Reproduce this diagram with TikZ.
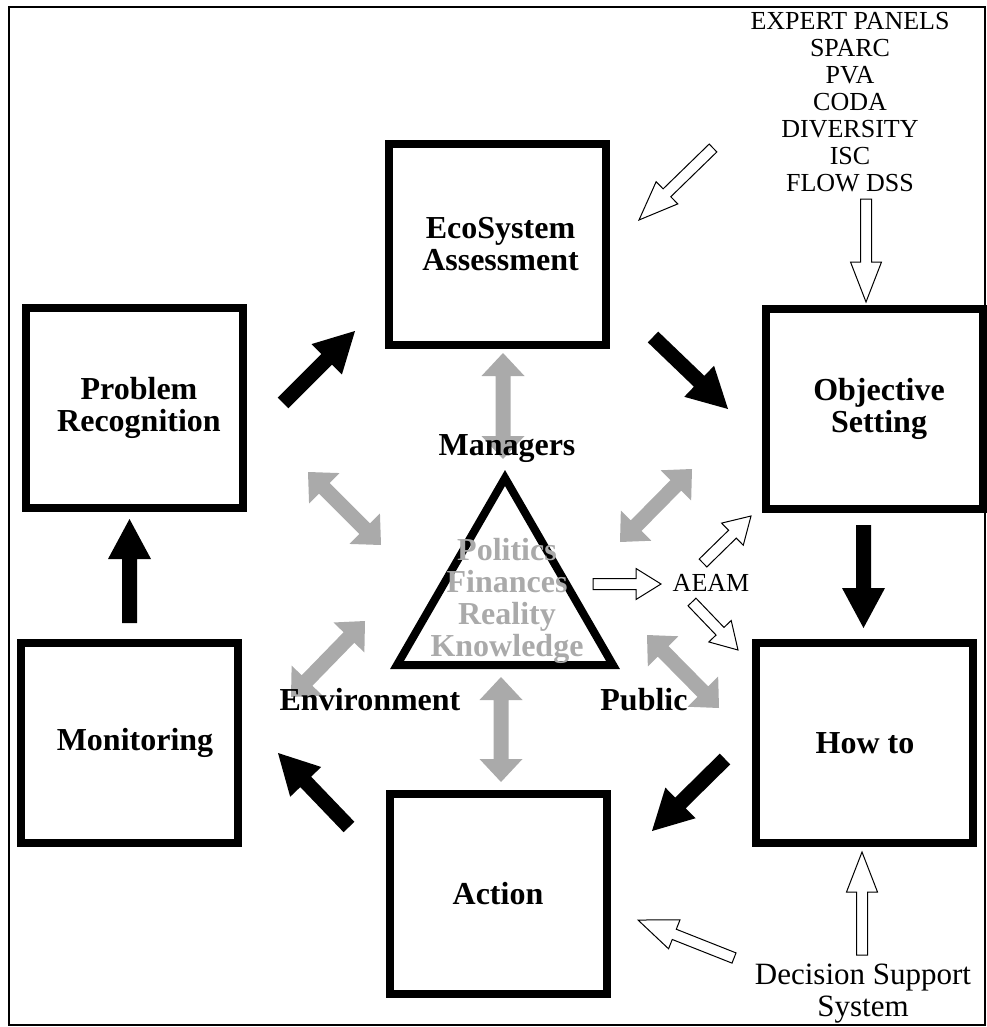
\documentclass[tikz,border=0pt]{standalone}
\usepackage{fontspec}
\setmainfont{Liberation Serif}
\usetikzlibrary{calc}
\definecolor{lg}{RGB}{170,170,170}
% single block arrow: style, tail, tip, shaft half width, head half width, head length
\newcommand{\sarrow}[6]{%
  \coordinate (hA) at ($(#3)!#6!(#2)$);
  \path[#1] ($(#2)!#4!90:(#3)$) -- ($(hA)!#4!90:(#3)$) -- ($(hA)!#5!90:(#3)$) -- (#3)
     -- ($(hA)!#5!-90:(#3)$) -- ($(hA)!#4!-90:(#3)$) -- ($(#2)!#4!-90:(#3)$) -- cycle;}
% double block arrow: style, end1, end2, shaft half width, head half width, head length
\newcommand{\darrow}[6]{%
  \coordinate (hA) at ($(#2)!#6!(#3)$);
  \coordinate (hB) at ($(#3)!#6!(#2)$);
  \path[#1] (#2) -- ($(hA)!#5!90:(#3)$) -- ($(hA)!#4!90:(#3)$) -- ($(hB)!#4!90:(#3)$)
     -- ($(hB)!#5!90:(#3)$) -- (#3) -- ($(hB)!#5!-90:(#3)$) -- ($(hB)!#4!-90:(#3)$)
     -- ($(hA)!#4!-90:(#3)$) -- ($(hA)!#5!-90:(#3)$) -- cycle;}
\newcommand{\ind}[1]{\hspace*{#1pt}}
\tikzset{
  box/.style={draw, line width=8pt, minimum width=217pt, minimum height=200pt,
    inner sep=0pt, align=center, font=\fontsize{32}{32}\selectfont\bfseries},
  blackarrow/.style={fill=black},
  greyarrow/.style={fill=lg},
  openarrow/.style={draw=black, fill=white, line width=1pt, line join=miter},
  boldlabel/.style={anchor=base, inner sep=0pt, font=\fontsize{32}{32}\selectfont\bfseries},
  plainlabel/.style={inner sep=0pt, align=center, font=\fontsize{26}{27}\selectfont},
}
\begin{document}
\begin{tikzpicture}[x=1pt,y=-1pt]
\useasboundingbox (0,0) rectangle (986,1027);
\draw[line width=2pt] (9,7) rectangle (985,1024.5);

% boxes
\node[box] (eco) at (497,244.5) {\ind{7}EcoSystem\\\ind{7}Assessment};
\node[box] (prob) at (134.5,407.5) {\ind{9}Problem\\\ind{9}Recognition};
\node[box] (obj) at (874,408.5) {\ind{10}Objective\\\ind{10}Setting};
\node[box] (how) at (864,743) {\ind{2}How to};
\node[box] (mon) at (129.5,742.5) {\ind{11}Monitoring};
\node[box] (act) at (498,894) {Action};

% triangle
\draw[line width=8pt, line join=miter] (505,478) -- (613,665) -- (397,665) -- cycle;

% black cycle arrows
\coordinate (a1t) at (283,403);   \coordinate (a1h) at (355,331);
\coordinate (a2t) at (653,337);   \coordinate (a2h) at (728,409);
\coordinate (a3t) at (863.5,525); \coordinate (a3h) at (863.5,628);
\coordinate (a4t) at (725,759);   \coordinate (a4h) at (652,831);
\coordinate (a5t) at (349,827);   \coordinate (a5h) at (278,753);
\coordinate (a6t) at (129.5,623); \coordinate (a6h) at (129.5,519);
\sarrow{blackarrow}{a1t}{a1h}{7.5pt}{21.5pt}{40pt}
\sarrow{blackarrow}{a2t}{a2h}{7.5pt}{21.5pt}{40pt}
\sarrow{blackarrow}{a3t}{a3h}{7.5pt}{21.5pt}{40pt}
\sarrow{blackarrow}{a4t}{a4h}{7.5pt}{21.5pt}{40pt}
\sarrow{blackarrow}{a5t}{a5h}{7.5pt}{21.5pt}{40pt}
\sarrow{blackarrow}{a6t}{a6h}{7.5pt}{21.5pt}{40pt}

% grey double arrows
\coordinate (g1a) at (503,353); \coordinate (g1b) at (503,459);
\coordinate (g2a) at (308,472); \coordinate (g2b) at (381,545);
\coordinate (g3a) at (620,542); \coordinate (g3b) at (692,469);
\coordinate (g4a) at (291,697); \coordinate (g4b) at (365,621);
\coordinate (g5a) at (647,635); \coordinate (g5b) at (719,708);
\coordinate (g6a) at (501,677); \coordinate (g6b) at (501,782);
\darrow{greyarrow}{g1a}{g1b}{7.5pt}{21.5pt}{23pt}
\darrow{greyarrow}{g2a}{g2b}{7.5pt}{21.5pt}{23pt}
\darrow{greyarrow}{g3a}{g3b}{7.5pt}{21.5pt}{23pt}
\darrow{greyarrow}{g4a}{g4b}{7.5pt}{21.5pt}{23pt}
\darrow{greyarrow}{g5a}{g5b}{7.5pt}{21.5pt}{23pt}
\darrow{greyarrow}{g6a}{g6b}{7.5pt}{21.5pt}{23pt}

% open arrows
\coordinate (o1t) at (713,148); \coordinate (o1h) at (639,220);
\coordinate (o2t) at (866,199); \coordinate (o2h) at (866,302);
\coordinate (o3t) at (593,584); \coordinate (o3h) at (661,584);
\coordinate (o4t) at (703,563); \coordinate (o4h) at (751,516);
\coordinate (o5t) at (692,602); \coordinate (o5h) at (738,650);
\coordinate (o6t) at (862,955); \coordinate (o6h) at (862,852);
\coordinate (o7t) at (734,958); \coordinate (o7h) at (638,920);
\sarrow{openarrow}{o1t}{o1h}{5.5pt}{15.5pt}{39pt}
\sarrow{openarrow}{o2t}{o2h}{5.5pt}{15.5pt}{40pt}
\sarrow{openarrow}{o3t}{o3h}{5.5pt}{15.5pt}{25pt}
\sarrow{openarrow}{o4t}{o4h}{5.5pt}{15.5pt}{26pt}
\sarrow{openarrow}{o5t}{o5h}{5.5pt}{15.5pt}{26pt}
\sarrow{openarrow}{o6t}{o6h}{5.5pt}{15.5pt}{40pt}
\sarrow{openarrow}{o7t}{o7h}{5.5pt}{15.5pt}{39pt}

% labels
\node[boldlabel] (managers) at (507,455) {Managers};
\node[boldlabel] (environment) at (370,710) {Environment};
\node[boldlabel] (public) at (644,710) {Public};
\node[inner sep=0pt, align=center, text=lg, font=\fontsize{32}{32}\selectfont\bfseries] (inside) at (507,601) {Politics\\Finances\\Reality\\Knowledge};
\node[plainlabel] (aeam) at (711,583) {AEAM};
\node[plainlabel] (tools) at (850,102) {EXPERT PANELS\\SPARC\\PVA\\CODA\\DIVERSITY\\ISC\\FLOW DSS};
\node[inner sep=0pt, align=center, font=\fontsize{31}{32}\selectfont] (dss) at (863,994) {Decision Support\\System};
\end{tikzpicture}
\end{document}
